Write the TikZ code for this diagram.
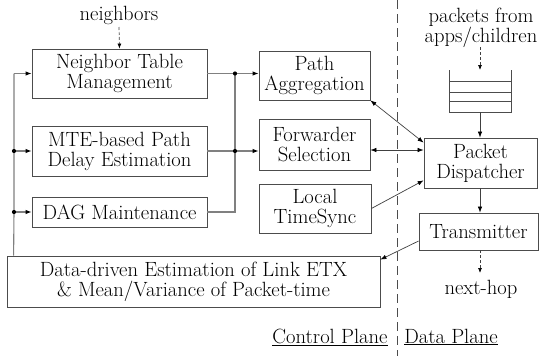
\documentclass[tikz,border=0pt]{standalone}
\usetikzlibrary{arrows.meta}
\begin{document}
\begin{tikzpicture}[x=1pt,y=-1pt,
  box/.style={draw=black!70,line width=0.8pt,align=center,inner sep=0pt,
    font=\fontsize{20.6}{20}\selectfont},
  lbl/.style={align=center,inner sep=0pt,font=\fontsize{20.6}{20}\selectfont},
  bus/.style={draw=black!50,line width=1.1pt},
  arr/.style={bus,-{Latex[length=6pt,width=4.5pt,black]}},
  thin/.style={draw=black!75,line width=0.7pt,{Latex[length=6pt,width=4.5pt,black]}-{Latex[length=6pt,width=4.5pt,black]}},
  thina/.style={draw=black!75,line width=0.7pt,-{Latex[length=6pt,width=4.5pt,black]}},
  dsh/.style={draw=black!75,line width=0.7pt,dash pattern=on 3pt off 2pt,-{Latex[length=5pt,width=4pt,black]}},
  dot/.style={circle,fill=black,inner sep=0pt,minimum size=4.2pt}]
\useasboundingbox (0,0) rectangle (539,356);

% control plane boxes
\node[box,minimum width=175pt,minimum height=49pt] (ntm) at (119.5,73.5) {Neighbor Table\\Management};
\node[box,minimum width=175pt,minimum height=50pt] (mte) at (119.5,151) {MTE-based Path\\Delay Estimation};
\node[box,minimum width=175pt,minimum height=30pt] (dag) at (119.5,212) {DAG Maintenance};
\node[box,minimum width=111pt,minimum height=49pt] (pa) at (314.5,75.5) {Path\\Aggregation};
\node[box,minimum width=111pt,minimum height=51pt] (fs) at (314.5,144.5) {Forwarder\\Selection};
\node[box,minimum width=112pt,minimum height=49pt] (lts) at (315,208.5) {Local\\TimeSync};
\node[box,minimum width=373pt,minimum height=51pt] (dd) at (193.5,281.5) {Data-driven Estimation of Link ETX\\\& Mean/Variance of Packet-time};

% data plane
\node[box,minimum width=113pt,minimum height=50pt] (pd) at (480.5,163) {Packet\\Dispatcher};
\node[box,minimum width=119pt,minimum height=37pt] (tx) at (478.5,231.5) {Transmitter};

\node[lbl] (nb) at (119,15) {neighbors};
\node[lbl] (pk) at (481,28) {packets from\\apps/children};
\node[lbl] (nh) at (481,289) {next-hop};
\node[lbl] (cp) at (330,337) {\underline{Control Plane}};
\node[lbl] (dp) at (451,337) {\underline{Data Plane}};

% queue
\coordinate (qtop) at (480,70);
\coordinate (qbot) at (480,112);
\draw[draw=black!70,line width=0.8pt] (449,70) -- (449,112) -- (511,112) -- (511,70);
\foreach \yy in {81,92,101} \draw[draw=black!70,line width=0.8pt] (449,\yy) -- (511,\yy);

% plane separator
\coordinate (sepT) at (397,0);
\coordinate (sepB) at (397,356);
\draw[draw=black!70,line width=0.8pt,dash pattern=on 9pt off 5pt] (sepT) -- (sepB);

% junctions
\coordinate (j1) at (235,73.5);
\coordinate (j2) at (235,151);
\coordinate (l1) at (14,151);
\coordinate (l2) at (14,212);

% right bus
\draw[bus] (ntm.east) -- (j1);
\draw[arr] (j1) -- (pa.west |- j1);
\draw[bus] (mte.east) -- (j2);
\draw[arr] (j2) -- (fs.west |- j2);
\draw[bus] (dag.east) -| (j1);
\node[dot] at (j1) {};
\node[dot] at (j2) {};

% left bus
\draw[bus] ([xshift=7pt]dd.north west) -- (l2) -- (l1) -- (14,73.5);
\draw[arr] (14,73.5) -- (ntm.west);
\draw[arr] (l1) -- (mte.west);
\draw[arr] (l2) -- (dag.west);
\node[dot] at (l1) {};
\node[dot] at (l2) {};

% thin connectors
\draw[thin] (pa.south east) -- ([yshift=-5pt]pd.north west);
\draw[thin] ([yshift=-5.5pt]fs.east) -- ([yshift=-5.5pt]fs.east -| pd.west);
\draw[thina] (lts.east) -- ([yshift=8pt]pd.south west);
\draw[thina] ([yshift=-9.5pt]tx.west) -- ([yshift=-4pt]dd.north east);
\draw[thina] (qbot) -- (qbot |- pd.north);
\draw[thina] (pd.south -| qbot) -- (qbot |- tx.north);

% dashed inputs/outputs
\draw[dsh] (nb.south |- 0,27) -- (ntm.north);
\draw[dsh] (qtop |- 0,47) -- (qtop);
\draw[dsh] (tx.south -| qbot) -- (qbot |- 0,273);
\end{tikzpicture}
\end{document}
